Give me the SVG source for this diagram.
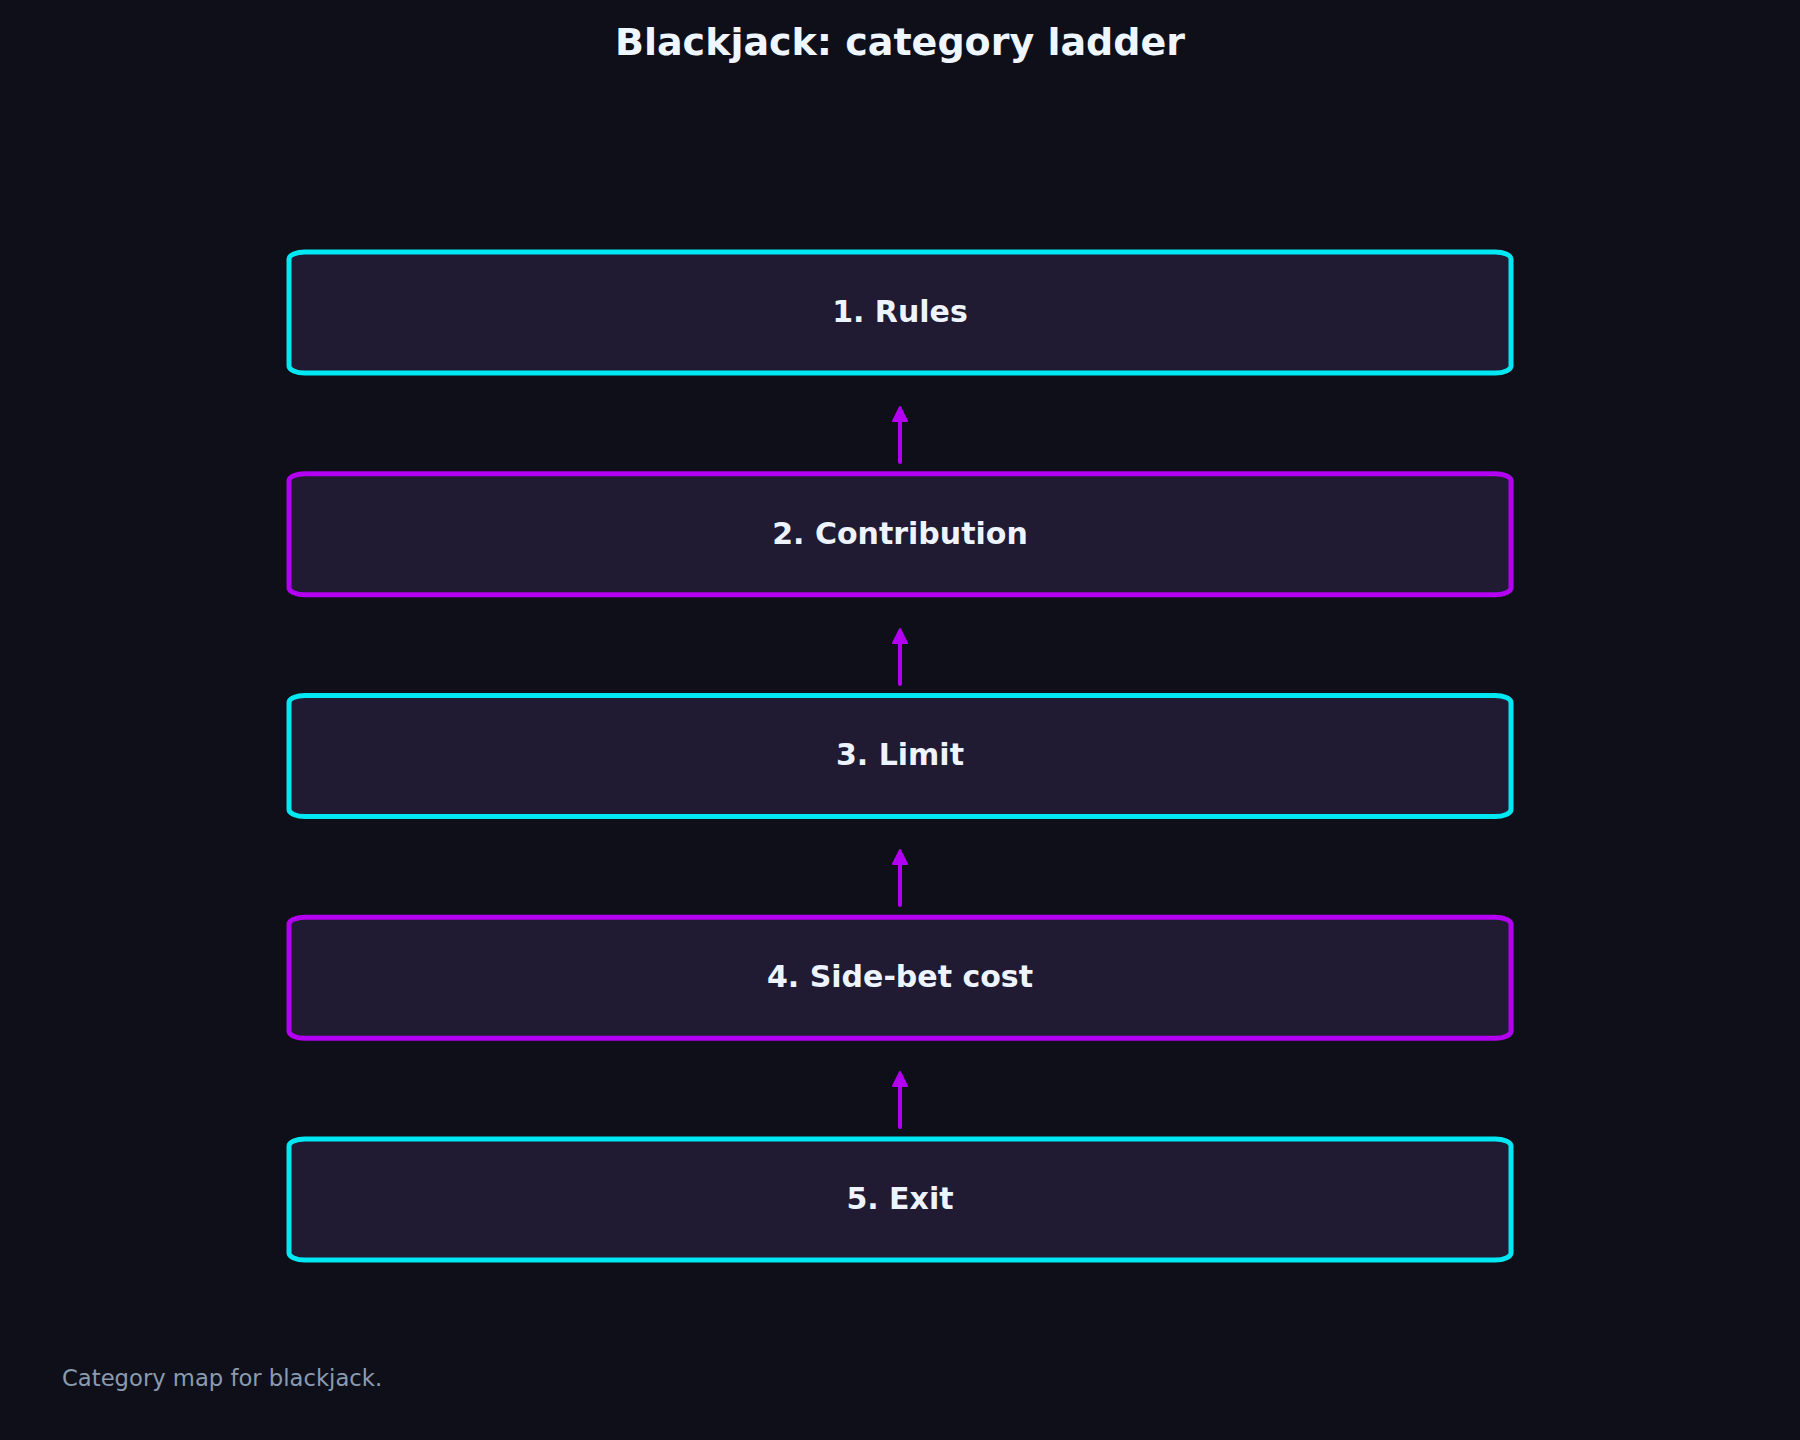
<svg xmlns="http://www.w3.org/2000/svg" width="1800" height="1440" viewBox="0 0 1800 1440">
<style>
.bg{fill:#0e0f19}
.box{fill:#201a33;stroke-width:5}
.cy{stroke:#00e8f2}
.pu{stroke:#b400f2}
.lbl{font-family:"DejaVu Sans",sans-serif;font-weight:bold;font-size:30px;fill:#eef4ff;text-anchor:middle}
.title{font-family:"DejaVu Sans",sans-serif;font-weight:bold;font-size:38px;fill:#eef6ff;text-anchor:middle}
.foot{font-family:"DejaVu Sans",sans-serif;font-size:22.7px;fill:#8a9bb0}
.edge{stroke:#b400f2;stroke-width:4;stroke-linecap:round;fill:none}
</style>
<defs>
<marker id="ah" markerUnits="userSpaceOnUse" markerWidth="18" markerHeight="18" viewBox="0 0 18 18" refX="9" refY="9" orient="auto">
<path d="M2,9 L16,2 L16,16 Z" transform="rotate(180 9 9)" fill="#b400f2" stroke="#b400f2" stroke-width="2" stroke-linejoin="round"/>
</marker>
</defs>
<rect class="bg" x="0" y="0" width="1800" height="1440"/>
<text class="title" x="900" y="55">Blackjack: category ladder</text>
<g id="connectors">
<line class="edge" x1="900" y1="462" x2="900" y2="414" marker-end="url(#ah)"/>
<line class="edge" x1="900" y1="684" x2="900" y2="636" marker-end="url(#ah)"/>
<line class="edge" x1="900" y1="905" x2="900" y2="857" marker-end="url(#ah)"/>
<line class="edge" x1="900" y1="1127" x2="900" y2="1079" marker-end="url(#ah)"/>
</g>
<g id="node1"><rect class="box cy" x="289" y="252" width="1222" height="121" rx="16" ry="7"/><text class="lbl" x="900" y="322">1. Rules</text></g>
<g id="node2"><rect class="box pu" x="289" y="473.75" width="1222" height="121" rx="16" ry="7"/><text class="lbl" x="900" y="543.5">2. Contribution</text></g>
<g id="node3"><rect class="box cy" x="289" y="695.5" width="1222" height="121" rx="16" ry="7"/><text class="lbl" x="900" y="765">3. Limit</text></g>
<g id="node4"><rect class="box pu" x="289" y="917.25" width="1222" height="121" rx="16" ry="7"/><text class="lbl" x="900" y="987">4. Side-bet cost</text></g>
<g id="node5"><rect class="box cy" x="289" y="1139" width="1222" height="121" rx="16" ry="7"/><text class="lbl" x="900" y="1208.5">5. Exit</text></g>
<text class="foot" x="62" y="1386">Category map for blackjack.</text>
</svg>
